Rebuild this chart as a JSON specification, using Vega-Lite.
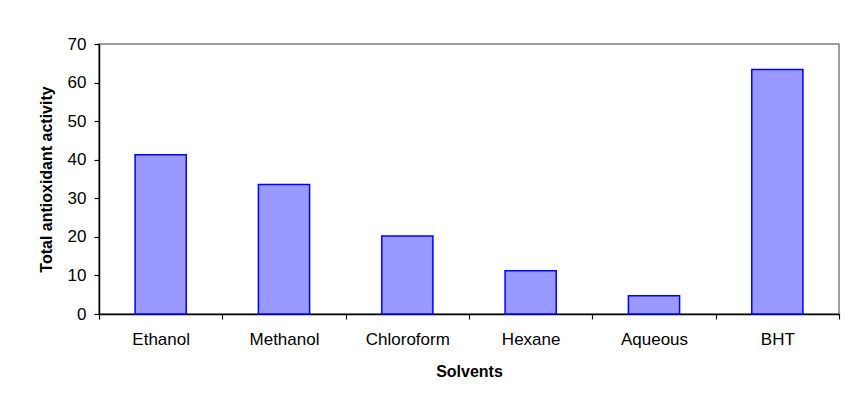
{
  "$schema": "https://vega.github.io/schema/vega-lite/v6.json",
  "width": 740,
  "height": 270,
  "autosize": {"type": "none"},
  "padding": {"left": 99, "top": 44, "right": 7, "bottom": 91},
  "background": "white",
  "config": {
    "font": "Liberation Sans",
    "view": {"stroke": "#808080", "strokeWidth": 1.5},
    "axis": {
      "labelFont": "Liberation Sans",
      "titleFont": "Liberation Sans",
      "labelColor": "black",
      "titleColor": "black",
      "domainColor": "black",
      "tickColor": "black",
      "domainWidth": 1.5,
      "tickWidth": 1.2,
      "grid": false
    }
  },
  "data": {
    "values": [
      {"solvent": "Ethanol", "activity": 41.3},
      {"solvent": "Methanol", "activity": 33.6},
      {"solvent": "Chloroform", "activity": 20.2},
      {"solvent": "Hexane", "activity": 11.2},
      {"solvent": "Aqueous", "activity": 4.7},
      {"solvent": "BHT", "activity": 63.4}
    ]
  },
  "mark": {
    "type": "bar",
    "fill": "#9999FF",
    "stroke": "#0000FF",
    "strokeWidth": 1.5,
    "width": {"band": 0.415}
  },
  "encoding": {
    "x": {
      "field": "solvent",
      "type": "nominal",
      "sort": null,
      "scale": {"paddingInner": 0, "paddingOuter": 0},
      "axis": {
        "title": "Solvents",
        "labelAngle": 0,
        "labelFontSize": 17,
        "titleFontSize": 16,
        "titleFontWeight": "bold",
        "tickBand": "extent",
        "tickSize": 5,
        "labelPadding": 12,
        "titlePadding": 16
      }
    },
    "y": {
      "field": "activity",
      "type": "quantitative",
      "scale": {"domain": [0, 70], "nice": false},
      "axis": {
        "title": "Total antioxidant activity",
        "values": [0, 10, 20, 30, 40, 50, 60, 70],
        "labelFontSize": 17,
        "titleFontSize": 16,
        "titleFontWeight": "bold",
        "tickSize": 5,
        "labelPadding": 8,
        "titlePadding": 13
      }
    }
  }
}
